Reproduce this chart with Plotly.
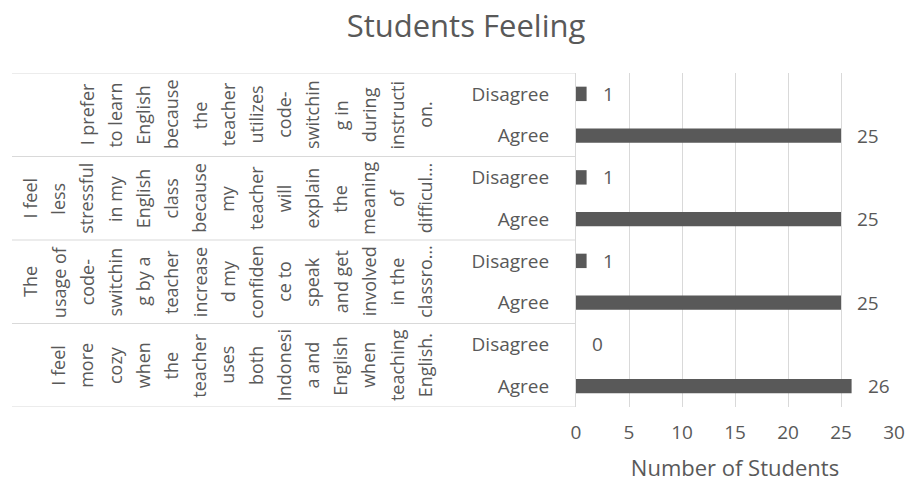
import plotly.graph_objects as go

# ---- data (top group first, as displayed) ----
statements = [
    ["I prefer", "to learn", "English", "because", "the", "teacher", "utilizes",
     "code-", "switchin", "g in", "during", "instructi", "on."],
    ["I feel", "less", "stressful", "in my", "English", "class", "because", "my",
     "teacher", "will", "explain", "the", "meaning", "of", "difficul…"],
    ["The", "usage of", "code-", "switchin", "g by a", "teacher", "increase",
     "d my", "confiden", "ce to", "speak", "and get", "involved", "in the", "classro…"],
    ["I feel", "more", "cozy", "when", "the", "teacher", "uses", "both", "Indonesi",
     "a and", "English", "when", "teaching", "English."],
]
responses = ["Agree", "Disagree"]
agree = [25, 25, 25, 26]
disagree = [1, 1, 1, 0]
x_ticks = [0, 5, 10, 15, 20, 25, 30]

TITLE = "Students Feeling"
X_TITLE = "Number of Students"

# ---- layout constants ----
W, H = 908, 484
ML, MR, MT, MB = 576, 14, 73, 77
PW = W - ML - MR
TXT = "#595959"
GRID = "#d9d9d9"
FONT = "Open Sans"

n = len(statements)
# Excel order: first category at the bottom -> reverse
groups_bottom_up = list(range(n))[::-1]  # index into statements, bottom first

ys, xs, labels = [], [], []
for pos, gi in enumerate(groups_bottom_up):
    vals = [agree[gi], disagree[gi]]
    for k, r in enumerate(responses):
        ys.append(2 * pos + k)
        xs.append(vals[k])
        labels.append(r)

fig = go.Figure()
fig.add_trace(go.Bar(
    x=xs, y=ys, orientation="h",
    marker=dict(color=TXT, line=dict(width=0)),
    width=0.345, hoverinfo="x+y",
))

annotations = []
# data labels
for xv, yv in zip(xs, ys):
    annotations.append(dict(
        x=xv, y=yv, xref="x", yref="y", text=str(xv), showarrow=False,
        xanchor="left", yanchor="middle", xshift=14,
        font=dict(family=FONT, size=19, color=TXT),
    ))

# rotated, wrapped group labels (one annotation per wrapped line)
LAST_COL_PX = 425
STEP = 28.2
for pos, gi in enumerate(groups_bottom_up):
    lines = statements[gi]
    m = len(lines)
    for i, line in enumerate(lines):
        annotations.append(dict(
            x=0, y=2 * pos + 0.5, xref="paper", yref="y", text=line,
            showarrow=False, textangle=-90, xanchor="center", yanchor="middle",
            xshift=(LAST_COL_PX - ML) - STEP * (m - 1 - i),
            font=dict(family=FONT, size=18, color=TXT),
        ))

# divider lines of the category table
shapes = []
for b in range(n + 1):
    shapes.append(dict(
        type="line", xref="paper", yref="y",
        x0=-(ML - 12) / PW, x1=0, y0=2 * b - 0.5, y1=2 * b - 0.5,
        line=dict(color=GRID, width=1),
    ))

fig.update_layout(
    width=W, height=H,
    margin=dict(l=ML, r=MR, t=MT, b=MB),
    paper_bgcolor="white", plot_bgcolor="white",
    showlegend=False,
    title=dict(text=TITLE, x=466 / W, xref="container", xanchor="center",
               y=1 - 26 / H, yref="container", yanchor="middle",
               font=dict(family=FONT, size=31, color=TXT)),
    xaxis=dict(range=[0, 30], tickvals=x_ticks, showgrid=True, gridcolor=GRID,
               gridwidth=1, zeroline=False, showline=False, ticks="",
               ticklabelstandoff=12,
               tickfont=dict(family=FONT, size=19, color=TXT),
               title=dict(text=X_TITLE, standoff=16,
                          font=dict(family=FONT, size=22, color=TXT)),
               automargin=False, fixedrange=True),
    yaxis=dict(range=[-0.5, 2 * n - 0.5], tickvals=ys, ticktext=labels,
               showgrid=False, zeroline=False, showline=True, linecolor=GRID,
               linewidth=1, ticks="", ticklabelstandoff=22,
               tickfont=dict(family=FONT, size=19, color=TXT),
               automargin=False, fixedrange=True),
    annotations=annotations,
    shapes=shapes,
    bargap=0.5,
)

fig.write_html("out.html")
